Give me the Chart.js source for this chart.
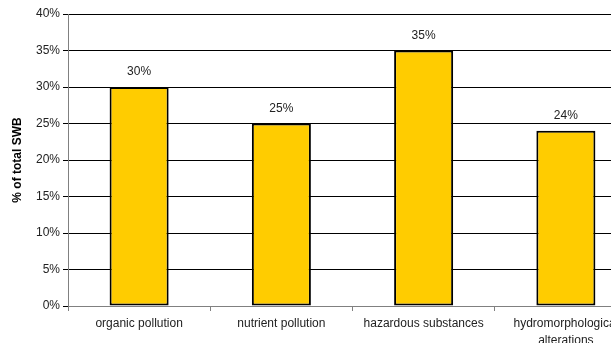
<!DOCTYPE html>
<html>
<head>
<meta charset="utf-8">
<script src="https://cdn.jsdelivr.net/npm/chart.js@4/dist/chart.umd.min.js"></script>
<style>
  html, body { margin: 0; padding: 0; background: #fff; overflow: hidden; }
  #wrap { position: relative; width: 640px; height: 343px; }
</style>
</head>
<body>
<div id="wrap"><canvas id="c" width="640" height="343"></canvas></div>
<script>
const categories = ["organic pollution", "nutrient pollution", "hazardous substances", ["hydromorphological", "alterations"]];
const values = [30, 25, 35, 24];
const yTicks = [0, 5, 10, 15, 20, 25, 30, 35, 40];
const yTitle = "% of total SWB";

const FONT = "'Liberation Sans', Arial, sans-serif";

const valueLabels = {
  id: 'valueLabels',
  afterDatasetsDraw(chart) {
    const ctx = chart.ctx;
    const meta = chart.getDatasetMeta(0);
    ctx.save();
    ctx.font = "12px " + FONT;
    ctx.fillStyle = "#222";
    ctx.textAlign = "center";
    ctx.textBaseline = "alphabetic";
    meta.data.forEach((bar, i) => {
      ctx.fillText(values[i] + "%", bar.x, bar.y - 12);
    });
    ctx.restore();
  }
};

new Chart(document.getElementById('c'), {
  type: 'bar',
  data: {
    labels: categories,
    datasets: [{
      data: values,
      backgroundColor: '#FFCC00',
      borderColor: '#000',
      borderWidth: 2,
      borderSkipped: false,
      barPercentage: 0.415,
      categoryPercentage: 1.0
    }]
  },
  options: {
    responsive: false,
    animation: false,
    devicePixelRatio: 1,
    layout: { padding: { left: 6, right: 3, top: 14, bottom: 0 } },
    plugins: { legend: { display: false }, tooltip: { enabled: false } },
    scales: {
      x: {
        offset: true,
        grid: { offset: true, drawOnChartArea: false, drawTicks: true, tickLength: 5, color: '#808080' },
        border: { color: '#808080', width: 1 },
        ticks: { font: { family: FONT, size: 12, lineHeight: 1.35 }, color: '#222', padding: 5, maxRotation: 0, autoSkip: false },
        afterFit(scale) { scale.height = 37; }
      },
      y: {
        min: 0, max: 40,
        afterBuildTicks(scale) { scale.ticks = yTicks.map(v => ({ value: v })); },
        grid: {
          color: (c) => (c.tick && c.tick.value === 0) ? '#808080' : '#000',
          tickColor: '#000',
          tickLength: 5,
          lineWidth: 1
        },
        border: { color: '#808080', width: 1 },
        ticks: {
          font: { family: FONT, size: 12 }, color: '#222', padding: 3,
          callback: (v) => v + '%'
        },
        title: { display: true, text: yTitle, font: { family: FONT, size: 12, weight: 'bold' }, color: '#000', padding: { top: 4, bottom: 4 } },
        afterFit(scale) { scale.width = 62; }
      }
    }
  },
  plugins: [valueLabels]
});
</script>
</body>
</html>
